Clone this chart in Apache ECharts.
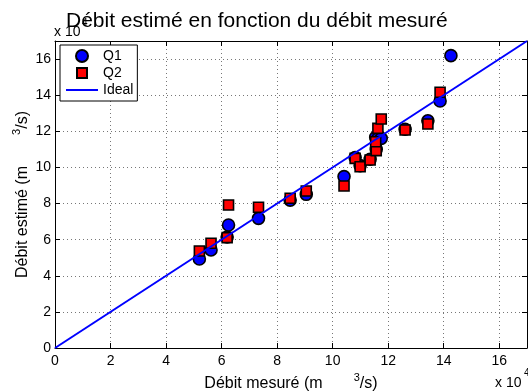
<!DOCTYPE html>
<html>
<head>
<meta charset="utf-8">
<script src="https://cdn.jsdelivr.net/npm/echarts@6/dist/echarts.min.js"></script>
<style>html,body{margin:0;padding:0;background:#fff;}#c{width:528px;height:392px;}</style>
</head>
<body>
<div id="c"></div>
<script>
// Measured flow (x 10^4 m3/s)
const measured = [5.2, 5.62, 6.2, 6.25, 7.33, 8.47, 9.05, 10.41, 10.81, 10.99, 11.35, 11.57, 11.55, 11.63, 11.75, 12.61, 13.43, 13.87, 14.26];
// Estimated flow, Q1 (x 10^4 m3/s)
const q1 = [4.93, 5.43, 6.15, 6.81, 7.18, 8.19, 8.51, 9.49, 10.55, 10.1, 10.45, 11.0, 11.67, 11.6, 11.61, 12.11, 12.58, 13.68, 16.19];
// Estimated flow, Q2 (x 10^4 m3/s)
const q2 = [5.37, 5.8, 6.11, 7.92, 7.79, 8.29, 8.69, 8.97, 10.5, 10.04, 10.41, 10.93, 11.42, 12.16, 12.68, 12.07, 12.4, 14.16, null];
// Ideal line end points
const idealX = [0, 17];
const ticks = [0, 2, 4, 6, 8, 10, 12, 14, 16];

const q1Data = measured.map((x, i) => [x, q1[i]]).filter(p => p[1] != null);
const q2Data = measured.map((x, i) => [x, q2[i]]).filter(p => p[1] != null);
const idealData = idealX.map(v => [v, v]);

const FONT = 'Liberation Sans, Arial, sans-serif';
const fmt = v => (ticks.indexOf(v) >= 0 ? String(v) : '');

const baseAxis = {
  min: 0, max: 17, interval: 2,
  axisLine: {show: true, onZero: false, lineStyle: {color: '#000', width: 1}},
  axisTick: {show: true, inside: true, length: 5, lineStyle: {color: '#000'}},
};
const supStyle = {fontSize: 11, verticalAlign: 'top', padding: [0, 0, 12, 0], fontFamily: FONT, color: '#000'};

const chart = echarts.init(document.getElementById('c'), null, {renderer: 'canvas'});
chart.setOption({
  animation: false,
  backgroundColor: '#fff',
  textStyle: {fontFamily: FONT},
  grid: {left: 55, right: 1, top: 41, bottom: 44, show: false, containLabel: false, outerBoundsMode: 'none'},
  title: {
    text: 'Débit estimé en fonction du débit mesuré',
    left: 61, top: 6, z: 10,
    textStyle: {fontFamily: FONT, fontSize: 21, fontWeight: 'normal', color: '#000'}
  },
  legend: {
    orient: 'vertical', left: 60, top: 45,
    data: [
      {name: 'Q1', icon: 'circle'},
      {name: 'Q2', icon: 'path://M-1,-1M11,11M0,0h10v10h-10z'},
      {name: 'Ideal', icon: 'path://M0,0h32v2h-32z'}
    ],
    itemWidth: 32, itemHeight: 12, itemGap: 3,
    padding: [4, 4, 4, 6],
    borderColor: '#000', borderWidth: 1, backgroundColor: '#fff',
    textStyle: {fontFamily: FONT, fontSize: 14, color: '#000'}
  },
  xAxis: [
    Object.assign({}, baseAxis, {
      type: 'value', position: 'bottom',
      name: 'Débit mesuré (m       {sup|3}/s)',
      nameLocation: 'middle', nameGap: 24, nameMoveOverlap: false,
      nameTextStyle: {fontFamily: FONT, fontSize: 16, color: '#000', rich: {sup: supStyle}},
      axisLabel: {formatter: fmt, color: '#000', fontSize: 14, fontFamily: FONT, margin: 6},
      splitLine: {show: true, lineStyle: {color: '#777', type: [1, 3], width: 1}}
    }),
    Object.assign({}, baseAxis, {
      type: 'value', position: 'top',
      axisLabel: {show: false}, splitLine: {show: false}
    })
  ],
  yAxis: [
    Object.assign({}, baseAxis, {
      type: 'value', position: 'left',
      name: 'Débit estimé (m       {sup|3}/s)',
      nameLocation: 'middle', nameGap: 21, nameRotate: 90, nameMoveOverlap: false,
      nameTextStyle: {fontFamily: FONT, fontSize: 16, color: '#000', rich: {sup: supStyle}},
      axisLabel: {formatter: fmt, color: '#000', fontSize: 14, fontFamily: FONT, margin: 4},
      splitLine: {show: true, lineStyle: {color: '#777', type: [1, 3], width: 1}}
    }),
    Object.assign({}, baseAxis, {
      type: 'value', position: 'right',
      axisLabel: {show: false}, splitLine: {show: false}
    })
  ],
  series: [
    {
      name: 'Q1', type: 'scatter', data: q1Data, xAxisIndex: 0, yAxisIndex: 0,
      symbol: 'circle', symbolSize: 12, z: 3,
      itemStyle: {color: '#0000ff', borderColor: '#000', borderWidth: 1.6, opacity: 1}
    },
    {
      name: 'Q2', type: 'scatter', data: q2Data, xAxisIndex: 0, yAxisIndex: 0,
      symbol: 'rect', symbolSize: 10, z: 4,
      itemStyle: {color: '#ff0000', borderColor: '#000', borderWidth: 1.6, opacity: 1}
    },
    {
      name: 'Ideal', type: 'line', data: idealData, xAxisIndex: 0, yAxisIndex: 0,
      symbol: 'none', z: 5,
      lineStyle: {color: '#0000ff', width: 2},
      itemStyle: {color: '#0000ff'}
    }
  ],
  graphic: [
    {type: 'text', left: 54, top: 25, z: 0,
      style: {text: 'x 10', font: '14px ' + FONT, fill: '#000'}},
    {type: 'text', left: 82, top: 18, z: 0,
      style: {text: '4', font: '10px ' + FONT, fill: '#000'}},
    {type: 'text', left: 495, top: 376,
      style: {text: 'x 10', font: '14px ' + FONT, fill: '#000'}},
    {type: 'text', left: 524, top: 368,
      style: {text: '4', font: '10px ' + FONT, fill: '#000'}}
  ]
});
</script>
</body>
</html>
